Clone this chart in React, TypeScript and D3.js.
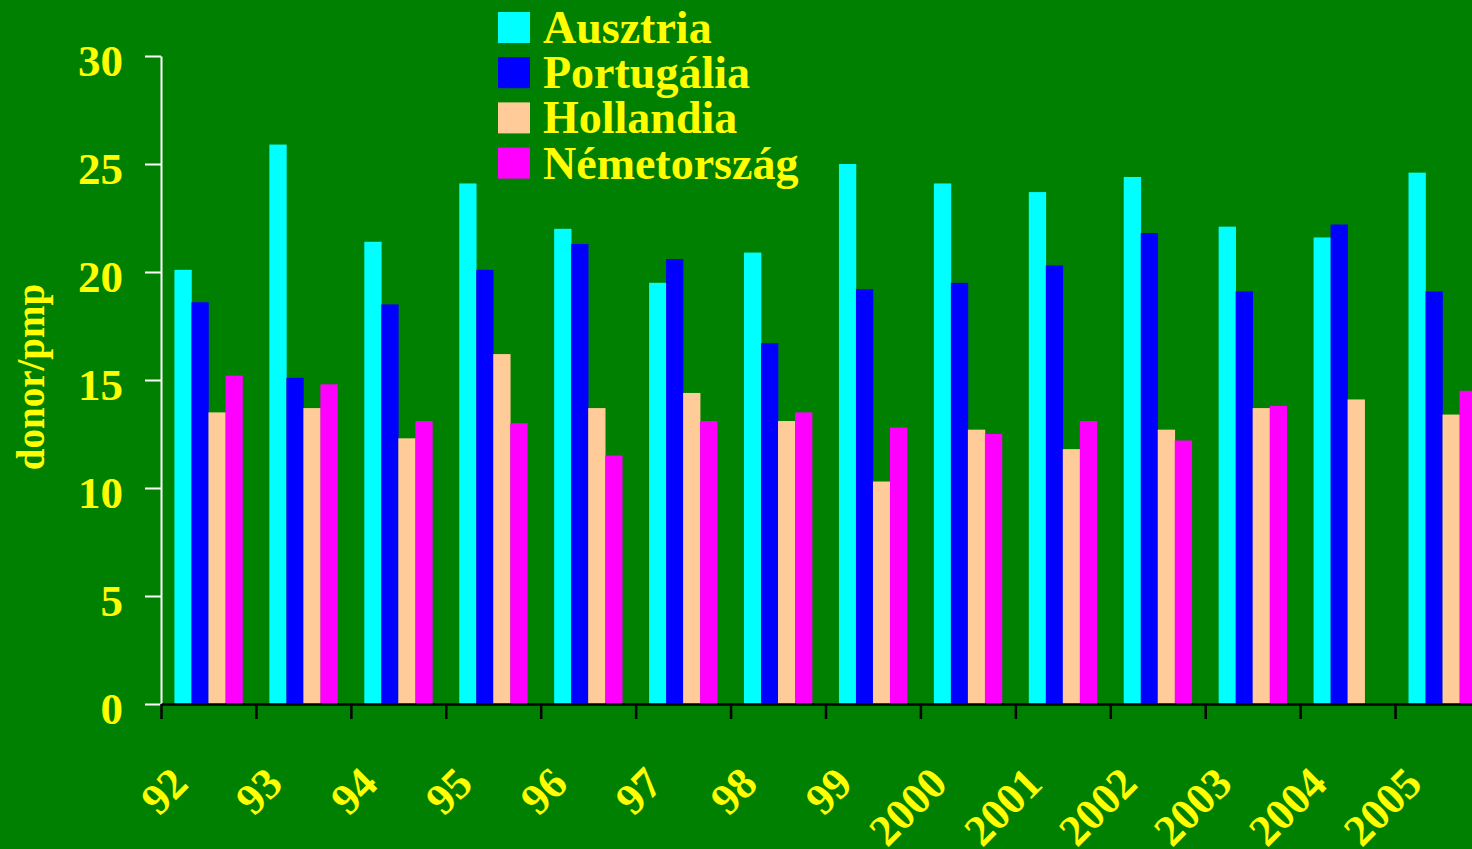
import React, { useEffect, useRef } from "react"
import * as d3 from "d3"

const WIDTH = 1472, HEIGHT = 849;
const MARGIN = { left: 161, top: 56, right: -18, bottom: 145 };
const FONT = "'Liberation Serif', 'Times New Roman', serif";

const categories = ["92", "93", "94", "95", "96", "97", "98", "99", "2000", "2001", "2002", "2003", "2004", "2005"];
const seriesNames = ["Ausztria", "Portugália", "Hollandia", "Németország"];
const seriesColors = ["#00FFFF", "#0000FF", "#FFCC99", "#FF00FF"];

const ausztria = [20.1, 25.9, 21.4, 24.1, 22.0, 19.5, 20.9, 25.0, 24.1, 23.7, 24.4, 22.1, 21.6, 24.6];
const portugalia = [18.6, 15.1, 18.5, 20.1, 21.3, 20.6, 16.7, 19.2, 19.5, 20.3, 21.8, 19.1, 22.2, 19.1];
const hollandia = [13.5, 13.7, 12.3, 16.2, 13.7, 14.4, 13.1, 10.3, 12.7, 11.8, 12.7, 13.7, 14.1, 13.4];
const nemetorszag = [15.2, 14.8, 13.1, 13.0, 11.5, 13.1, 13.5, 12.8, 12.5, 13.1, 12.2, 13.8, null, 14.5];

const yTicks = [0, 5, 10, 15, 20, 25, 30];

export default function App() {
	const ref = useRef(null);

	useEffect(() => {
		const svg = d3.select(ref.current);
		svg.selectAll("*").remove();

		const width = WIDTH - MARGIN.left - MARGIN.right,
			height = HEIGHT - MARGIN.top - MARGIN.bottom;

		const x = d3.scaleBand().domain(categories).range([0, width]).padding(0);
		const xInner = d3.scaleBand().domain(seriesNames).range([0, x.bandwidth()])
			.paddingInner(0).paddingOuter(0.79);
		const y = d3.scaleLinear().domain([0, 30]).range([height, 0]);

		svg.append("rect").attr("width", WIDTH).attr("height", HEIGHT).attr("fill", "#008000");

		const g = svg.append("g").attr("transform", `translate(${MARGIN.left}, ${MARGIN.top})`);

		const values = [ausztria, portugalia, hollandia, nemetorszag];
		const rows = categories.map((c, i) => ({ cat: c, vals: values.map(s => s[i]) }));

		const groups = g.selectAll(".grp").data(rows).enter().append("g")
			.attr("class", "grp")
			.attr("transform", d => `translate(${x(d.cat)}, 0)`);

		groups.selectAll("rect")
			.data(d => d.vals.map((v, k) => ({ name: seriesNames[k], v, k })).filter(e => e.v != null))
			.enter().append("rect")
			.attr("x", d => xInner(d.name))
			.attr("width", xInner.bandwidth() + 0.3)
			.attr("y", d => y(d.v))
			.attr("height", d => height - y(d.v))
			.attr("fill", d => seriesColors[d.k]);

		// y axis
		const yAxis = d3.axisLeft(y).tickValues(yTicks).tickSizeInner(16).tickSizeOuter(0).tickPadding(22);
		const ya = g.append("g").call(yAxis);
		ya.select(".domain").attr("stroke", "#fff").attr("stroke-width", 2);
		ya.selectAll(".tick line").attr("stroke", "#fff").attr("stroke-width", 2);
		ya.selectAll(".tick text")
			.attr("fill", "#FFFF00").attr("dy", 19)
			.style("font-family", FONT).style("font-size", "45px").style("font-weight", "bold");

		// x axis (ticks on band edges)
		const xEdge = d3.scaleLinear().domain([0, categories.length]).range([0, width]);
		const xAxis = d3.axisBottom(xEdge).tickValues(d3.range(categories.length))
			.tickSizeInner(15).tickSizeOuter(0).tickFormat(() => "");
		const xa = g.append("g").attr("transform", `translate(0, ${height})`).call(xAxis);
		xa.select(".domain").attr("stroke", "#000").attr("stroke-width", 2.5);
		xa.selectAll(".tick line").attr("stroke", "#000").attr("stroke-width", 2.5);

		g.append("g").selectAll("text").data(categories).enter().append("text")
			.attr("transform", d => `translate(${x(d) + 29}, ${height + 82}) rotate(-45)`)
			.attr("text-anchor", "end")
			.attr("fill", "#FFFF00")
			.style("font-family", FONT).style("font-size", "44px").style("font-weight", "bold")
			.text(d => d);

		// y axis title
		svg.append("text")
			.attr("transform", `translate(44, 377) rotate(-90)`)
			.attr("text-anchor", "middle")
			.attr("fill", "#FFFF00")
			.style("font-family", FONT).style("font-size", "39px").style("font-weight", "bold")
			.text("donor/pmp");

		// legend
		const legend = svg.append("g").attr("transform", "translate(498, 12)");
		const items = legend.selectAll("g").data(seriesNames).enter().append("g")
			.attr("transform", (d, i) => `translate(0, ${i * 45.2})`);
		items.append("rect").attr("width", 32).attr("height", 31).attr("fill", (d, i) => seriesColors[i]);
		items.append("text")
			.attr("x", 45).attr("y", 31)
			.attr("fill", "#FFFF00")
			.style("font-family", FONT).style("font-size", "46px").style("font-weight", "bold")
			.text(d => d);
	}, []);

	return (
		<svg ref={ref} width={WIDTH} height={HEIGHT}
			style={{ position: "absolute", left: 0, top: 0, display: "block" }} />
	);
}
